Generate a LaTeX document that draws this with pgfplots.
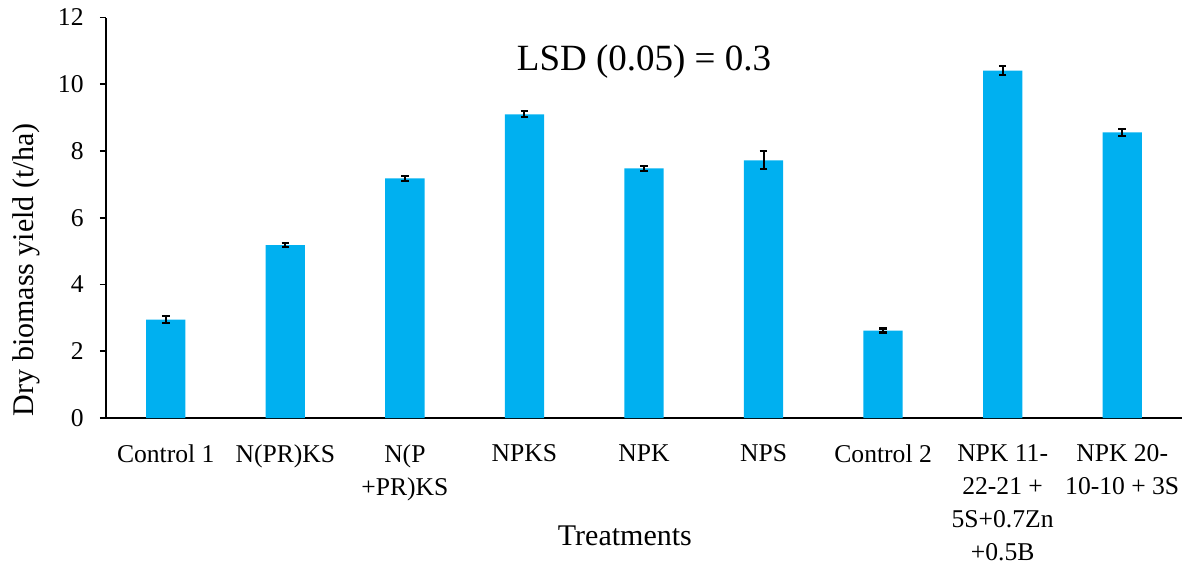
\documentclass[border=0pt]{standalone}
\usepackage{fontspec}
\setmainfont{Liberation Serif}
\usepackage{pgfplots}
\pgfplotsset{compat=1.18}
\definecolor{barblue}{HTML}{00B0F0}
\begin{document}
\fontsize{12}{16.5}\selectfont
\begin{tikzpicture}
\path[use as bounding box] (-53pt,-72.5pt) rectangle (539pt,209pt);
\begin{axis}[
  at={(0,0)}, anchor=south west,
  scale only axis, width=538pt, height=200.25pt,
  xmin=-0.5, xmax=8.5, ymin=0, ymax=12,
  axis x line*=bottom, axis y line*=left,
  axis line style={black, line width=0.9pt},
  ytick={0,2,...,12},
  xtick={0,...,8},
  xticklabels={Control 1, N(PR)KS, {N(P\\+PR)KS}, NPKS, NPK, NPS, Control 2, {NPK 11-\\22-21 +\\5S+0.7Zn\\+0.5B}, {NPK 20-\\10-10 + 3S}},
  x tick label style={align=center, anchor=north, yshift=-6pt, font=\fontsize{12.8}{16.5}\selectfont},
  x tick style={draw=none},
  extra x ticks={-0.5,0.5,...,8.5},
  extra x tick labels={},
  extra x tick style={tick style={draw=black, line width=0.9pt}, major tick length=4pt, tick align=outside},
  y tick style={black, line width=0.9pt},
  major tick length=3pt, tick align=outside,
  y tick label style={font=\fontsize{12.8}{14}\selectfont, xshift=-4pt},
  /pgf/number format/assume math mode=true,
  ylabel={Dry biomass yield (t/ha)},
  ylabel style={font=\fontsize{15}{16}\selectfont, at={(axis description cs:0,0.37)}, anchor=south, yshift=29pt},
  clip=false,
]
\addplot[ybar, bar width=19.65pt, fill=barblue, draw=none,
  error bars/.cd, y dir=both, y explicit,
  error bar style={black, line width=1pt},
  error mark options={black, rotate=90, mark size=1.9pt, line width=1.1pt}]
  coordinates {
  (0,2.95) +- (0,0.10)
  (1,5.18) +- (0,0.06)
  (2,7.18) +- (0,0.07)
  (3,9.10) +- (0,0.09)
  (4,7.48) +- (0,0.07)
  (5,7.72) +- (0,0.27)
  (6,2.62) +- (0,0.06)
  (7,10.41) +- (0,0.14)
  (8,8.56) +- (0,0.10)
  };
\node[anchor=base, font=\fontsize{18.5}{20}\selectfont] at (axis cs:4,10.4) {LSD (0.05) = 0.3};
\node[anchor=base, font=\fontsize{15}{16}\selectfont] at (axis cs:3.84,-3.81) {Treatments};
\end{axis}
\end{tikzpicture}
\end{document}
